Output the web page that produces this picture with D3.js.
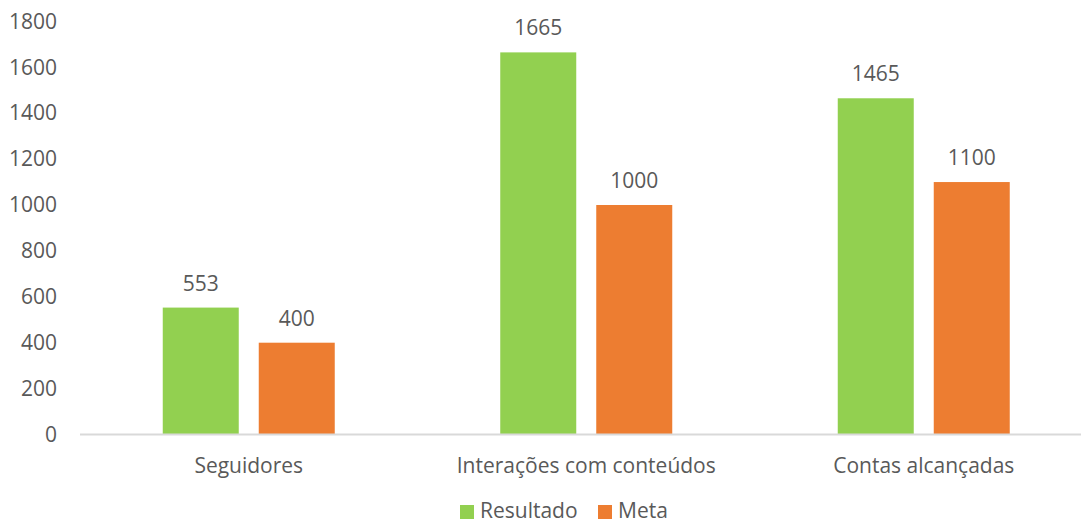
<!DOCTYPE html>
<html>
<head>
<meta charset="utf-8">
<script src="https://cdn.jsdelivr.net/npm/d3@7"></script>
<style>
  body { margin: 0; background: #fff; }
  text { font-family: "Open Sans", sans-serif; fill: #595959; }
</style>
</head>
<body>
<svg id="chart" width="1081" height="523"></svg>
<script>
// chart data
var categories = ["Seguidores", "Interações com conteúdos", "Contas alcançadas"];
var seriesNames = ["Resultado", "Meta"];
var resultado = [553, 1665, 1465];
var meta = [400, 1000, 1100];
var yTicks = [0, 200, 400, 600, 800, 1000, 1200, 1400, 1600, 1800];
var colors = ["#92D050", "#ED7D31"];

var svg = d3.select("#chart");

var y = d3.scaleLinear().domain([0, 1800]).range([434.5, 21.4]);
var x0 = d3.scaleBand().domain(categories).range([80, 1092.5]);
var x1 = d3.scaleBand().domain(seriesNames)
  .range([(x0.bandwidth() - 172) / 2, (x0.bandwidth() + 172) / 2])
  .paddingInner(20 / 96);

// y axis labels (no line, no ticks)
var yAxis = d3.axisLeft(y).tickValues(yTicks).tickFormat(d3.format("d")).tickSize(0).tickPadding(0);
var gy = svg.append("g").attr("transform", "translate(57,0)").call(yAxis);
gy.select(".domain").remove();
gy.selectAll("text").style("font-size", "21px").attr("fill", "#595959")
  .style("font-family", "'Open Sans', sans-serif");

// rows of data for each category
var rows = categories.map(function(c, i) {
  return { cat: c, vals: [resultado[i], meta[i]] };
});

var groups = svg.append("g").selectAll("g").data(rows).enter()
  .append("g")
  .attr("transform", function(d) { return "translate(" + x0(d.cat) + ",0)"; });

groups.selectAll("rect").data(function(d) {
    return d.vals.map(function(v, j) { return { name: seriesNames[j], v: v, j: j }; });
  }).enter()
  .append("rect")
  .attr("x", function(d) { return x1(d.name); })
  .attr("width", x1.bandwidth())
  .attr("y", function(d) { return y(d.v); })
  .attr("height", function(d) { return y(0) - y(d.v); })
  .attr("fill", function(d) { return colors[d.j]; });

// value labels
groups.selectAll("text.val").data(function(d) {
    return d.vals.map(function(v, j) { return { name: seriesNames[j], v: v }; });
  }).enter()
  .append("text")
  .attr("class", "val")
  .attr("x", function(d) { return x1(d.name) + x1.bandwidth() / 2; })
  .attr("y", function(d) { return y(d.v) - 17; })
  .attr("text-anchor", "middle")
  .style("font-size", "21px")
  .text(function(d) { return d.v; });

// x axis
var xAxis = d3.axisBottom(x0).tickSize(0).tickPadding(0);
var gx = svg.append("g").attr("transform", "translate(0," + y(0) + ")").call(xAxis);
gx.select(".domain").remove();
gx.selectAll("text").attr("dy", "38px").style("font-size", "21px").attr("fill", "#595959")
  .style("font-family", "'Open Sans', sans-serif");
svg.append("line")
  .attr("x1", 80).attr("x2", 1081)
  .attr("y1", y(0)).attr("y2", y(0))
  .attr("stroke", "#D9D9D9").attr("stroke-width", 2);

// legend
var legendX = [460, 598];
var lg = svg.append("g").selectAll("g").data(seriesNames).enter()
  .append("g")
  .attr("transform", function(d, i) { return "translate(" + legendX[i] + ",505)"; });
lg.append("rect").attr("width", 14).attr("height", 14)
  .attr("fill", function(d, i) { return colors[i]; });
lg.append("text").attr("x", 20).attr("y", 6).attr("dy", "0.35em")
  .style("font-size", "21px")
  .text(function(d) { return d; });
</script>
</body>
</html>
